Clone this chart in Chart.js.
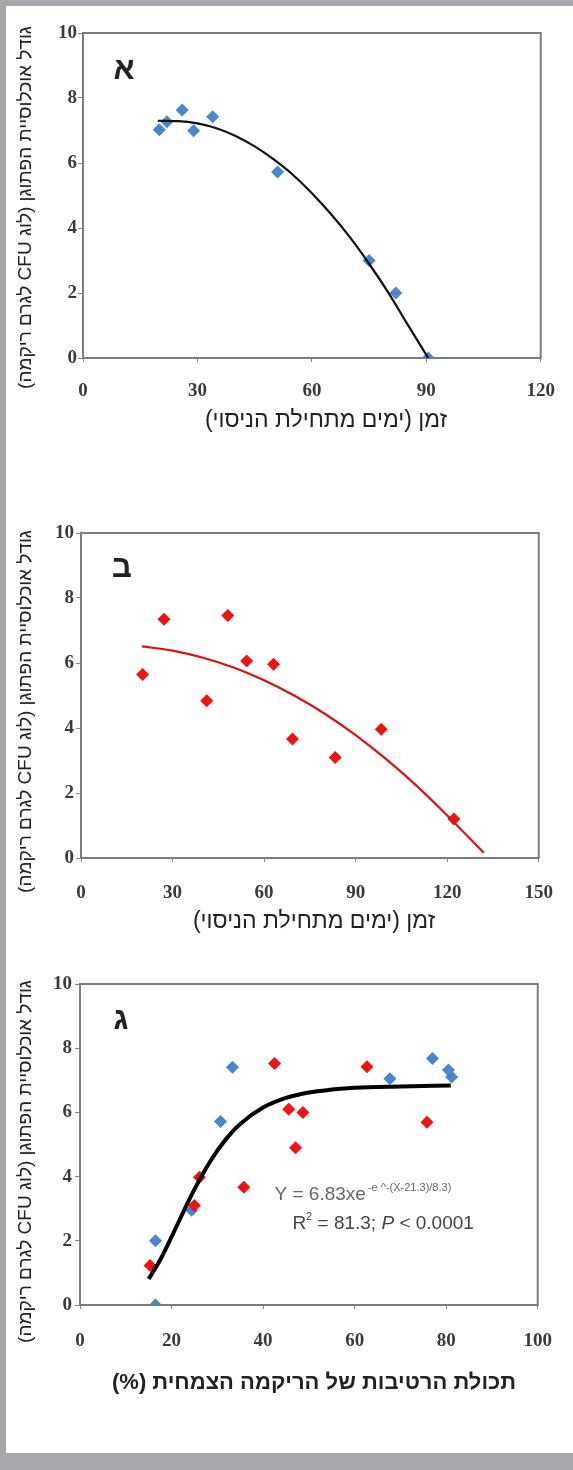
<!DOCTYPE html>
<html lang="he">
<head>
<meta charset="utf-8">
<script src="https://cdn.jsdelivr.net/npm/chart.js@4.4.1/dist/chart.umd.min.js"></script>
<style>
  html, body { margin: 0; padding: 0; background: #a6a7ab; }
  #sheet { position: absolute; left: 6px; top: 6px; width: 567px; height: 1447px; background: #fff; }
  .panel { position: absolute; left: 0; width: 567px; }
</style>
</head>
<body>
<div id="sheet">
  <div class="panel" style="top:0px"><canvas id="chartA" dir="rtl" width="567" height="450"></canvas></div>
  <div class="panel" style="top:480px"><canvas id="chartB" dir="rtl" width="567" height="460"></canvas></div>
  <div class="panel" style="top:950px"><canvas id="chartC" dir="rtl" width="567" height="497"></canvas></div>
</div>
<script>
// א - זן כחול לאורך זמן
const daysA = [20, 22, 26, 29, 34, 51, 75, 82, 90.5];
const logA = [7.02, 7.27, 7.63, 6.99, 7.42, 5.72, 3.0, 2.0, 0.0];
const fitDaysA = [19.6, 25, 30, 35, 40, 45, 50, 55, 60, 65, 70, 75, 80, 85, 90.5];
const fitLogA = [7.3, 7.29, 7.22, 7.07, 6.83, 6.51, 6.11, 5.64, 5.07, 4.43, 3.71, 2.9, 2.02, 1.05, 0.0];

// ב - זן אדום לאורך זמן
const daysB = [20.2, 27.2, 41.2, 48.1, 54.3, 63.1, 69.3, 83.3, 98.4, 122.2];
const logB = [5.65, 7.35, 4.84, 7.46, 6.06, 5.96, 3.66, 3.09, 3.96, 1.2];
const fitDaysB = [20, 30, 40, 50, 60, 70, 80, 90, 100, 110, 120, 132];
const fitLogB = [6.51, 6.38, 6.16, 5.86, 5.47, 4.99, 4.43, 3.78, 3.04, 2.22, 1.31, 0.16];

// ג - לפי תכולת הרטיבות
const moistBlue = [16.5, 16.5, 24.4, 30.7, 33.3, 67.7, 77.0, 80.5, 81.2];
const logBlue = [2.0, 0.0, 2.95, 5.72, 7.41, 7.05, 7.68, 7.32, 7.1];
const moistRed = [15.3, 25.0, 26.1, 35.8, 42.5, 45.6, 47.1, 48.7, 62.7, 75.8];
const logRed = [1.23, 3.1, 3.98, 3.67, 7.52, 6.1, 4.9, 6.0, 7.42, 5.69];
const fitMoist = [15, 17.5, 20, 22.5, 25, 27.5, 30, 32.5, 35, 40, 45, 50, 55, 60, 70, 81];
const fitLogC = [0.81, 1.4, 2.12, 2.88, 3.6, 4.25, 4.81, 5.27, 5.64, 6.15, 6.45, 6.62, 6.71, 6.77, 6.81, 6.84];

const yTitle = 'גודל אוכלוסיית הפתוגן (לוג CFU לגרם ריקמה)';
const timeTitle = 'זמן (ימים מתחילת הניסוי)';
const moistTitle = 'תכולת הרטיבות של הריקמה הצמחית (%)';

const blue = '#4a86c8';
const red = '#ee1414';

function pts(xs, ys) {
  return xs.map((x, i) => ({ x: x, y: ys[i] }));
}

// frame + texts drawn on the canvas
const panelText = {
  id: 'panelText',
  beforeDatasetsDraw(chart) {
    const { ctx, chartArea: a } = chart;
    ctx.save();
    ctx.strokeStyle = '#7d7d7d';
    ctx.lineWidth = 2;
    ctx.strokeRect(a.left, a.top, a.right - a.left, a.bottom - a.top);
    ctx.restore();
  },
  afterDraw(chart, args, o) {
    const { ctx, chartArea: a } = chart;
    ctx.save();
    ctx.fillStyle = '#222';
    ctx.textAlign = 'center';
    ctx.textBaseline = 'middle';

    ctx.font = 'bold 31px "Liberation Sans"';
    ctx.fillText(o.letter, a.left + 41, a.top + o.letterY);

    ctx.font = o.xBold ? 'bold 22px "Liberation Sans"' : '23px "Liberation Sans"';
    ctx.fillText(o.xTitle, o.xTitleX, o.xTitleY);

    ctx.save();
    ctx.translate(20, (a.top + a.bottom) / 2 + o.yShift);
    ctx.rotate(-Math.PI / 2);
    ctx.font = '19px "Liberation Sans"';
    ctx.fillText(yTitle, 0, 0);
    ctx.restore();

    if (o.equation) {
      const sx = chart.scales.x, sy = chart.scales.y;
      ctx.direction = 'ltr';
      ctx.textAlign = 'left';
      ctx.textBaseline = 'alphabetic';
      ctx.fillStyle = '#666';
      let x = sx.getPixelForValue(42.5), y = sy.getPixelForValue(3.5) + 7;
      ctx.font = '19px "Liberation Sans"';
      ctx.fillText('Y = 6.83xe', x, y);
      x += ctx.measureText('Y = 6.83xe').width + 2;
      ctx.font = '11px "Liberation Sans"';
      ctx.fillText('-e ^-(X-21.3)/8.3)', x, y - 9);

      ctx.fillStyle = '#444';
      x = sx.getPixelForValue(46.4); y = sy.getPixelForValue(2.6) + 7;
      ctx.font = '19px "Liberation Sans"';
      ctx.fillText('R', x, y);
      x += ctx.measureText('R').width;
      ctx.font = '11px "Liberation Sans"';
      ctx.fillText('2', x, y - 9);
      x += ctx.measureText('2').width;
      ctx.font = '19px "Liberation Sans"';
      ctx.fillText(' = 81.3; ', x, y);
      x += ctx.measureText(' = 81.3; ').width;
      ctx.font = 'italic 19px "Liberation Sans"';
      ctx.fillText('P', x, y);
      x += ctx.measureText('P').width;
      ctx.font = '19px "Liberation Sans"';
      ctx.fillText(' < 0.0001', x, y);
    }
    ctx.restore();
  }
};

function makeChart(id, p) {
  const tickFont = { family: '"Liberation Serif"', size: 19, weight: 'bold' };
  return new Chart(document.getElementById(id), {
    type: 'scatter',
    data: { datasets: p.datasets },
    options: {
      responsive: false,
      animation: false,
      layout: { padding: { left: 0, top: p.area.top, right: 567 - p.area.right, bottom: p.bottomPad } },
      plugins: {
        legend: { display: false },
        tooltip: { enabled: false },
        panelText: p.text
      },
      scales: {
        x: {
          type: 'linear', min: 0, max: p.xMax,
          ticks: { stepSize: p.xStep, font: tickFont, color: '#3a3a3a', padding: p.xPad, maxRotation: 0 },
          grid: { drawOnChartArea: false, color: '#888', tickLength: 4 },
          border: { display: false },
          afterFit: s => { s.height = 60; }
        },
        y: {
          min: 0, max: 10,
          ticks: { stepSize: 2, font: tickFont, color: '#3a3a3a', padding: p.yPad },
          grid: { drawOnChartArea: false, color: '#888', tickLength: 5 },
          border: { display: false },
          afterFit: s => { s.width = p.area.left; }
        }
      }
    },
    plugins: [panelText]
  });
}

function curve(data, color, width) {
  return { data: data, showLine: true, borderColor: color, borderWidth: width, pointRadius: 0,
           cubicInterpolationMode: 'monotone', order: 0 };
}
function marks(data, color) {
  return { data: data, pointStyle: 'rectRot', pointRadius: 6.5, pointHoverRadius: 6.5,
           backgroundColor: color, borderColor: color, borderWidth: 0, order: 1 };
}

makeChart('chartA', {
  area: { left: 77, top: 27, right: 548 }, bottomPad: 450 - 352 - 60,
  xMax: 120, xStep: 30, xPad: 18, yPad: 1,
  datasets: [curve(pts(fitDaysA, fitLogA), '#111', 2.2), marks(pts(daysA, logA), blue)],
  text: { letter: 'א', letterY: 37, xTitle: timeTitle, xTitleX: 320, xTitleY: 415, yShift: 12 }
});

makeChart('chartB', {
  area: { left: 75, top: 47, right: 547 }, bottomPad: 460 - 372 - 60,
  xMax: 150, xStep: 30, xPad: 20, yPad: 2,
  datasets: [curve(pts(fitDaysB, fitLogB), '#e01010', 2.2), marks(pts(daysB, logB), red)],
  text: { letter: 'ב', letterY: 35, xTitle: timeTitle, xTitleX: 308, xTitleY: 436, yShift: 16 }
});

makeChart('chartC', {
  area: { left: 74, top: 28, right: 548 }, bottomPad: 497 - 349 - 60,
  xMax: 100, xStep: 20, xPad: 21, yPad: 3,
  datasets: [curve(pts(fitMoist, fitLogC), '#000', 4), marks(pts(moistRed, logRed), red), marks(pts(moistBlue, logBlue), blue)],
  text: { letter: 'ג', letterY: 36, xTitle: moistTitle, xBold: true, xTitleX: 308, xTitleY: 427, yShift: 17, equation: true }
});
</script>
</body>
</html>
